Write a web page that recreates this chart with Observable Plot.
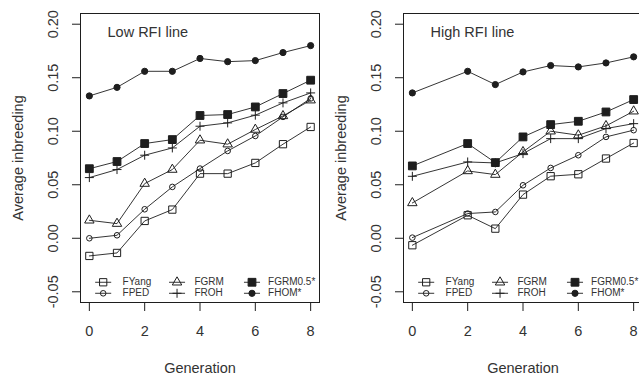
<!DOCTYPE html>
<html><head><meta charset="utf-8">
<script src="https://cdn.jsdelivr.net/npm/d3@7"></script>
<script src="https://cdn.jsdelivr.net/npm/@observablehq/plot@0.6"></script>
<style>
body{margin:0;background:#fff}
#wrap{display:flex;width:639px;height:375px;overflow:hidden;background:#fff}
#wrap svg{flex:none;display:block}
</style>
</head><body><div id="wrap"></div>
<script>
// ---- data ----
const seriesNames = ["FYang","FPED","FGRM","FROH","FGRM0.5*","FHOM*"];

const genLow = [0,1,2,3,4,5,6,7,8];
const low_FYang   = [-0.0165,-0.0137,0.0162,0.0268,0.0604,0.0604,0.0704,0.0879,0.1040];
const low_FPED    = [0.0000,0.0028,0.0271,0.0480,0.0651,0.0816,0.0956,0.1134,0.1306];
const low_FGRM    = [0.0168,0.0137,0.0511,0.0642,0.0916,0.0879,0.1016,0.1143,0.1290];
const low_FROH    = [0.0567,0.0642,0.0776,0.0844,0.1047,0.1078,0.1150,0.1265,0.1358];
const low_FGRM05  = [0.0650,0.0717,0.0885,0.0922,0.1147,0.1156,0.1227,0.1352,0.1477];
const low_FHOM    = [0.1330,0.1410,0.1560,0.1560,0.1680,0.1650,0.1660,0.1735,0.1800];

const genHigh = [0,2,3,4,5,6,7,8];
const high_FYang  = [-0.0065,0.0215,0.0090,0.0408,0.0580,0.0598,0.0745,0.0890];
const high_FPED   = [0.0006,0.0231,0.0246,0.0495,0.0657,0.0776,0.0947,0.1010];
const high_FGRM   = [0.0330,0.0629,0.0595,0.0807,0.1000,0.0963,0.1050,0.1187];
const high_FROH   = [0.0579,0.0713,0.0704,0.0791,0.0931,0.0931,0.1025,0.1071];
const high_FGRM05 = [0.0676,0.0885,0.0707,0.0947,0.1062,0.1093,0.1180,0.1296];
const high_FHOM   = [0.1358,0.1560,0.1436,0.1554,0.1614,0.1601,0.1638,0.1695];

const yTicks = [-0.05,0,0.05,0.10,0.15,0.20];
const yTickLabels = ["-0.05","0.00","0.05","0.10","0.15","0.20"];
const xTicks = [0,2,4,6,8];

// ---- styles ----
const INK = "#1e1e1e";
const TXT = "#333";
const FONT = "Liberation Sans, Arial, sans-serif";
const symStyle = {
  "FYang":    {symbol:"square",   r:4.1, fill:"none", stroke:INK},
  "FPED":     {symbol:"circle",   r:2.8, fill:"none", stroke:INK},
  "FGRM":     {symbol:"triangle", r:3.5, fill:"none", stroke:INK},
  "FROH":     {symbol:"plus",     r:3.0, fill:"none", stroke:INK},
  "FGRM0.5*": {symbol:"square",   r:4.4, fill:INK,    stroke:INK},
  "FHOM*":    {symbol:"circle",   r:3.1, fill:INK,    stroke:INK}
};
// legend layout (col, row) in data units
const legendSymX = [0.5,0.5,3.17,3.17,5.88,5.88];
const legendTxtX = [1.2,1.2,3.8,3.8,6.46,6.46];
const legendRowY = [-0.0411,-0.0514,-0.0411,-0.0514,-0.0411,-0.0514];

function makePanel(title, gens, valuesList, width, ml, mr) {
  const marks = [];
  seriesNames.forEach((name, si) => {
    const vals = valuesList[si];
    const rows = gens.map((g, i) => ({g, v: vals[i]}));
    const st = symStyle[name];
    marks.push(Plot.line(rows, {x:"g", y:"v", stroke:INK, strokeWidth:0.9}));
    marks.push(Plot.dot(rows, {x:"g", y:"v", symbol:()=>st.symbol, r:st.r, fill:st.fill, stroke:st.stroke, strokeWidth:1}));
    // legend entry
    const lx = legendSymX[si], ly = legendRowY[si];
    marks.push(Plot.link([0], {x1:()=>lx-0.29, x2:()=>lx+0.29, y1:()=>ly, y2:()=>ly, stroke:INK, strokeWidth:0.9}));
    marks.push(Plot.dot([0], {x:()=>lx, y:()=>ly, symbol:()=>st.symbol, r:st.r, fill:st.fill, stroke:st.stroke, strokeWidth:1}));
    marks.push(Plot.text([name], {x:()=>legendTxtX[si], y:()=>ly, text:d=>d, textAnchor:"start", lineAnchor:"middle", fontSize:10, fontFamily:FONT, fill:TXT, ariaLabel:"legend-text"}));
  });
  marks.push(Plot.frame({stroke:INK, strokeWidth:1}));
  marks.push(Plot.axisY({ticks:yTicks, tickSize:8, tickFormat:()=>"", label:null, stroke:INK}));
  marks.push(Plot.axisX({ticks:xTicks, tickSize:9, tickFormat:()=>"", label:null, stroke:INK}));
  marks.push(Plot.text(yTickLabels, {y:yTicks, text:d=>d, frameAnchor:"left", dx:-27, rotate:-90, textAnchor:"middle", lineAnchor:"middle", fontSize:14.5, fontFamily:FONT, fill:TXT}));
  marks.push(Plot.text(xTicks, {x:d=>d, text:d=>String(d), frameAnchor:"bottom", dy:29, lineAnchor:"middle", fontSize:14.5, fontFamily:FONT, fill:TXT}));
  marks.push(Plot.text(["Generation"], {text:d=>d, frameAnchor:"bottom", dy:66, lineAnchor:"middle", fontSize:14.5, fontFamily:FONT, fill:TXT}));
  marks.push(Plot.text(["Average inbreeding"], {text:d=>d, frameAnchor:"left", dx:-62, rotate:-90, textAnchor:"middle", lineAnchor:"middle", fontSize:14.5, fontFamily:FONT, fill:TXT}));
  marks.push(Plot.text([title], {text:d=>d, frameAnchor:"top-left", dx:27, dy:19, textAnchor:"start", lineAnchor:"middle", fontSize:14.5, fontFamily:FONT, fill:TXT}));

  const svg = Plot.plot({
    width, height:375,
    marginLeft:ml, marginRight:mr, marginTop:13, marginBottom:73,
    style:{fontFamily:FONT, background:"#fff", overflow:"visible"},
    x:{domain:[-0.32,8.32], axis:null},
    y:{domain:[-0.06,0.21], axis:null},
    marks
  });
  svg.querySelectorAll('g[aria-label="legend-text"] text').forEach(t => t.setAttribute("letter-spacing","0.5"));
  return svg;
}

const wrap = document.getElementById("wrap");
wrap.appendChild(makePanel("Low RFI line", genLow,
  [low_FYang, low_FPED, low_FGRM, low_FROH, low_FGRM05, low_FHOM], 320, 80, 1));
wrap.appendChild(makePanel("High RFI line", genHigh,
  [high_FYang, high_FPED, high_FGRM, high_FROH, high_FGRM05, high_FHOM], 322, 83, 0));
</script>
</body></html>
